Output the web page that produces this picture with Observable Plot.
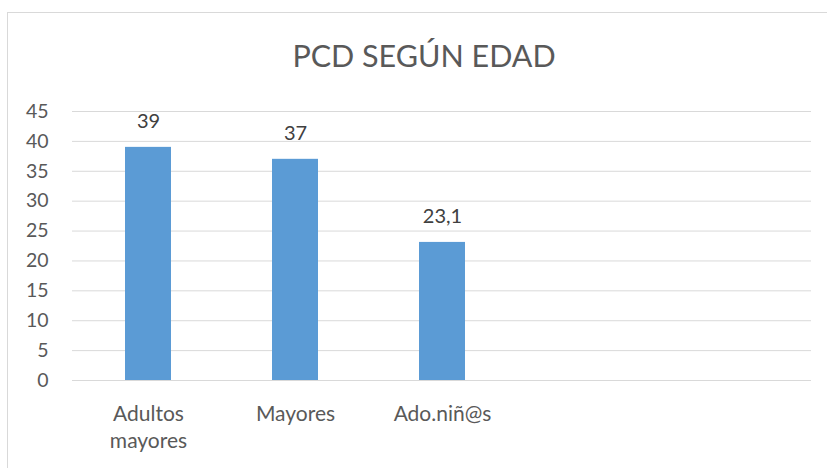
<!DOCTYPE html>
<html>
<head>
<meta charset="utf-8">
<script src="https://cdn.jsdelivr.net/npm/d3@7"></script>
<script src="https://cdn.jsdelivr.net/npm/@observablehq/plot@0.6"></script>
<style>
  html, body { margin: 0; padding: 0; background: #fff; }
  #wrap { position: relative; width: 827px; height: 468px; overflow: hidden; font-family: Lato, "Open Sans", sans-serif; }
  #frame { position: absolute; left: 7px; top: 12px; width: 840px; height: 480px; border: 1px solid #D9D9D9; box-sizing: border-box; }
  #title { position: absolute; left: 0; width: 848px; top: 40px; text-align: center; font-size: 30.5px; color: #595959; line-height: 30.5px; white-space: nowrap; }
  #chart { position: absolute; left: 0; top: 0; }
</style>
</head>
<body>
<div id="wrap">
  <div id="frame"></div>
  <div id="chart"></div>
  <div id="title">PCD SEGÚN EDAD</div>
</div>
<script>
const categories = ["Adultos\nmayores", "Mayores", "Ado.niñ@s"];
const values = [39, 37, 23.1];
const valueLabels = ["39", "37", "23,1"];
const emptySlots = [" ", "  "];
const yTicks = [0, 5, 10, 15, 20, 25, 30, 35, 40, 45];

const data = categories.map((c, i) => ({category: c, value: values[i], label: valueLabels[i]}));

const chart = Plot.plot({
  width: 827,
  height: 468,
  marginLeft: 72,
  marginRight: 16,
  marginTop: 111,
  marginBottom: 88,
  style: {fontFamily: "Lato, 'Open Sans', sans-serif", background: "transparent", color: "#595959"},
  x: {domain: [...categories, ...emptySlots], paddingInner: 0.69, paddingOuter: 0.345, label: null},
  y: {domain: [0, 45], ticks: yTicks, label: null},
  marks: [
    Plot.gridY(yTicks, {stroke: "#D9D9D9", strokeOpacity: 1}),
    Plot.barY(data, {x: "category", y: "value", fill: "#5B9BD5"}),
    Plot.ruleY([0], {stroke: "#D9D9D9", strokeWidth: 1.2}),
    Plot.text(data, {x: "category", y: "value", text: "label", dy: -26, fontSize: 20, fill: "#404040"}),
    Plot.axisY({ticks: yTicks, tickSize: 0, tickPadding: 24, fontSize: 19.5, fill: "#595959"}),
    Plot.axisX({tickSize: 0, tickPadding: 21, fontSize: 21, lineHeight: 1.3, fill: "#595959"})
  ]
});
document.getElementById("chart").appendChild(chart);
</script>
</body>
</html>
